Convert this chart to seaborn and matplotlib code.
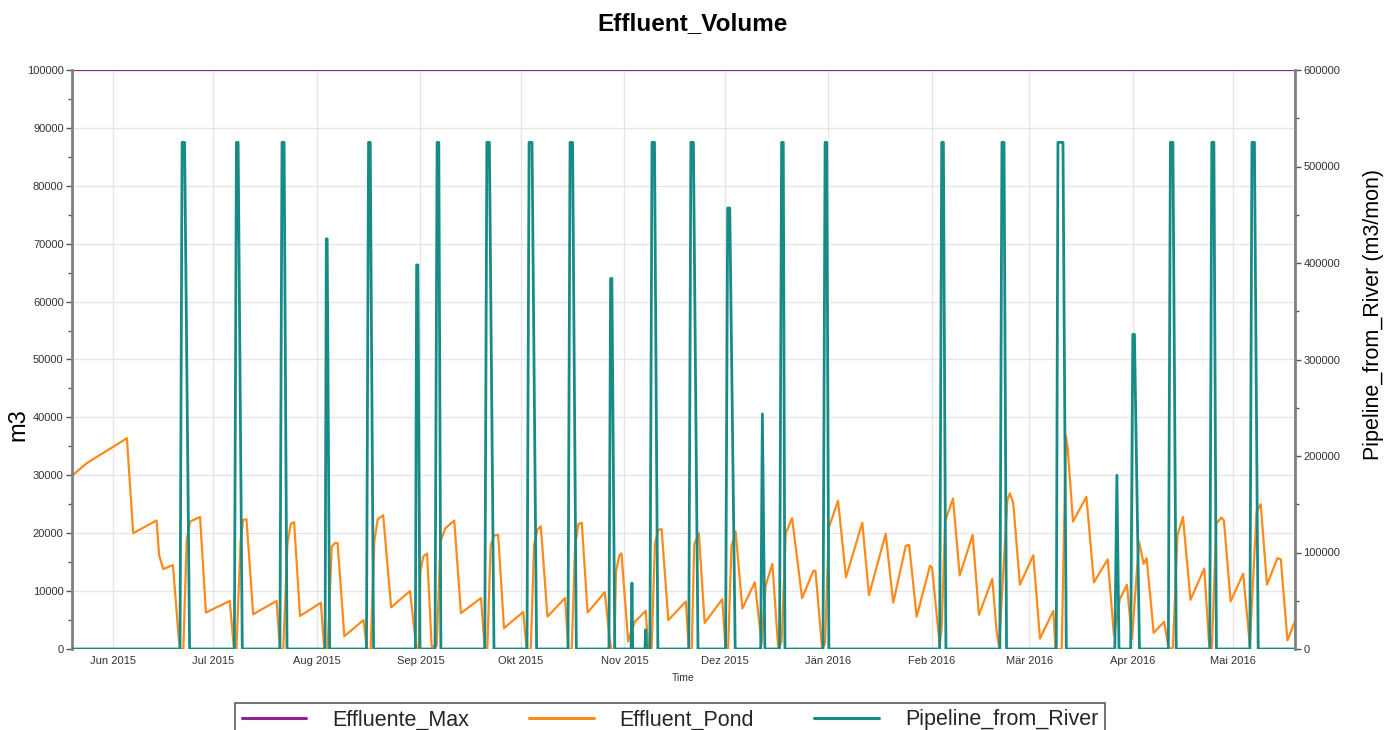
import matplotlib
matplotlib.use("Agg")
import matplotlib.pyplot as plt
import matplotlib.dates as mdates
from matplotlib.ticker import MultipleLocator, FuncFormatter
import pandas as pd
import seaborn as sns

# ---------------- data ----------------
max_dates = ["2015-05-19 20:00", "2016-05-20 12:00"]
max_values = [100000, 100000]

pond_dates = [
    "2015-05-20 00:00", "2015-05-24 06:00", "2015-06-05 06:00", "2015-06-07 03:00", "2015-06-14 03:00",
    "2015-06-14 21:00", "2015-06-16 03:00", "2015-06-19 00:00", "2015-06-20 15:00", "2015-06-21 03:00",
    "2015-06-22 03:00", "2015-06-23 03:00", "2015-06-24 03:00", "2015-06-27 03:00", "2015-06-28 21:00",
    "2015-07-06 00:00", "2015-07-07 06:00", "2015-07-08 00:00", "2015-07-09 06:00", "2015-07-10 00:00",
    "2015-07-11 00:00", "2015-07-13 00:00", "2015-07-20 00:00", "2015-07-21 00:00", "2015-07-22 00:00",
    "2015-07-23 06:00", "2015-07-24 06:00", "2015-07-25 06:00", "2015-07-27 00:00", "2015-08-02 06:00",
    "2015-08-03 06:00", "2015-08-04 06:00", "2015-08-05 12:00", "2015-08-06 12:00", "2015-08-07 06:00",
    "2015-08-09 06:00", "2015-08-15 00:00", "2015-08-16 00:00", "2015-08-17 03:00", "2015-08-18 06:00",
    "2015-08-19 06:00", "2015-08-20 21:00", "2015-08-23 06:00", "2015-08-28 21:00", "2015-08-30 21:00",
    "2015-08-31 12:00", "2015-09-01 00:00", "2015-09-01 21:00", "2015-09-03 00:00", "2015-09-04 09:00",
    "2015-09-05 21:00", "2015-09-07 00:00", "2015-09-08 09:00", "2015-09-11 03:00", "2015-09-13 03:00",
    "2015-09-19 03:00", "2015-09-20 06:00", "2015-09-21 00:00", "2015-09-22 00:00", "2015-09-23 00:00",
    "2015-09-24 06:00", "2015-09-26 00:00", "2015-10-01 18:00", "2015-10-02 18:00", "2015-10-04 00:00",
    "2015-10-05 00:00", "2015-10-06 00:00", "2015-10-07 00:00", "2015-10-09 00:00", "2015-10-14 06:00",
    "2015-10-15 06:00", "2015-10-16 06:00", "2015-10-17 06:00", "2015-10-18 06:00", "2015-10-19 06:00",
    "2015-10-21 00:00", "2015-10-26 03:00", "2015-10-27 15:00", "2015-10-28 03:00", "2015-10-29 00:00",
    "2015-10-29 12:00", "2015-10-30 12:00", "2015-10-31 03:00", "2015-11-02 03:00", "2015-11-02 21:00",
    "2015-11-04 03:00", "2015-11-07 09:00", "2015-11-08 03:00", "2015-11-09 03:00", "2015-11-10 03:00",
    "2015-11-11 03:00", "2015-11-12 03:00", "2015-11-14 03:00", "2015-11-19 09:00", "2015-11-20 06:00",
    "2015-11-21 03:00", "2015-11-21 21:00", "2015-11-23 06:00", "2015-11-25 00:00", "2015-11-30 06:00",
    "2015-12-01 06:00", "2015-12-02 00:00", "2015-12-03 00:00", "2015-12-04 06:00", "2015-12-06 06:00",
    "2015-12-10 00:00", "2015-12-12 00:00", "2015-12-13 06:00", "2015-12-15 06:00", "2015-12-17 00:00",
    "2015-12-18 00:00", "2015-12-19 06:00", "2015-12-21 03:00", "2015-12-24 03:00", "2015-12-27 12:00",
    "2015-12-28 03:00", "2015-12-30 03:00", "2015-12-31 00:00", "2016-01-01 03:00", "2016-01-03 21:00",
    "2016-01-06 06:00", "2016-01-11 03:00", "2016-01-13 03:00", "2016-01-18 03:00", "2016-01-20 09:00",
    "2016-01-24 03:00", "2016-01-25 03:00", "2016-01-27 09:00", "2016-01-31 09:00", "2016-02-01 00:00",
    "2016-02-03 06:00", "2016-02-03 21:00", "2016-02-04 21:00", "2016-02-07 06:00", "2016-02-09 06:00",
    "2016-02-13 03:00", "2016-02-15 00:00", "2016-02-19 00:00", "2016-02-20 06:00", "2016-02-21 00:00",
    "2016-02-22 18:00", "2016-02-23 12:00", "2016-02-24 06:00", "2016-02-25 06:00", "2016-02-27 06:00",
    "2016-03-02 06:00", "2016-03-04 06:00", "2016-03-08 06:00", "2016-03-08 21:00", "2016-03-10 18:00",
    "2016-03-12 00:00", "2016-03-12 12:00", "2016-03-14 03:00", "2016-03-18 03:00", "2016-03-20 09:00",
    "2016-03-24 12:00", "2016-03-26 09:00", "2016-03-28 03:00", "2016-03-30 06:00", "2016-03-31 18:00",
    "2016-04-02 21:00", "2016-04-04 06:00", "2016-04-05 03:00", "2016-04-07 06:00", "2016-04-10 09:00",
    "2016-04-11 18:00", "2016-04-13 00:00", "2016-04-14 09:00", "2016-04-16 00:00", "2016-04-18 06:00",
    "2016-04-22 09:00", "2016-04-23 18:00", "2016-04-24 15:00", "2016-04-26 00:00", "2016-04-27 12:00",
    "2016-04-28 06:00", "2016-04-30 06:00", "2016-05-04 00:00", "2016-05-06 00:00", "2016-05-08 00:00",
    "2016-05-09 06:00", "2016-05-11 03:00", "2016-05-14 06:00", "2016-05-15 06:00", "2016-05-17 06:00",
    "2016-05-20 06:00",
]
pond_values = [
    30000, 32100, 36400, 20000, 22200,
    16200, 13800, 14500, 2800, 0,
    0, 18800, 22000, 22800, 6300,
    8300, 0, 0, 18800, 22300,
    22400, 6000, 8300, 0, 0,
    18200, 21600, 21900, 5700, 8000,
    0, 0, 17700, 18300, 18300,
    2200, 5000, 0, 0, 18800,
    22400, 23100, 7200, 10000, 0,
    0, 13400, 16000, 16500, 400,
    500, 18500, 20800, 22200, 6200,
    8800, 0, 0, 17800, 19600,
    19700, 3600, 6400, 0, 0,
    18000, 20600, 21200, 5600, 8800,
    0, 0, 17800, 21600, 21800,
    6300, 9800, 1500, 0, 0,
    13400, 16200, 16500, 1300, 2700,
    4700, 6600, 0, 0, 18200,
    20600, 20700, 5000, 8200, 0,
    0, 18000, 20000, 4500, 8600,
    0, 0, 17700, 20300, 7000,
    11500, 1000, 11000, 14700, 0,
    1300, 20000, 22600, 8800, 13500,
    13500, 0, 1000, 21000, 25600,
    12400, 21800, 9300, 19900, 8000,
    17800, 18000, 5600, 14400, 14000,
    700, 3800, 22000, 26000, 12700,
    19700, 5900, 12100, 3300, 300,
    18200, 25700, 26900, 25200, 11100,
    16200, 1800, 6600, 0, 0,
    36800, 35000, 22000, 26300, 11500,
    15500, 2400, 8600, 11100, 1800,
    18500, 14700, 15700, 2800, 4700,
    0, 200, 19700, 22800, 8500,
    13900, 1300, 0, 21700, 22700,
    22200, 8200, 13000, 700, 23700,
    25000, 11100, 15700, 15500, 1500,
    5900,
]

pipe_dates = [
    "2015-05-19 20:00",
    "2015-06-21 03:00", "2015-06-21 18:00", "2015-06-22 12:00", "2015-06-24 00:00",
    "2015-07-07 09:00", "2015-07-08 00:00", "2015-07-08 12:00", "2015-07-09 18:00",
    "2015-07-21 00:00", "2015-07-21 15:00", "2015-07-22 06:00", "2015-07-23 03:00",
    "2015-08-03 12:00", "2015-08-03 21:00", "2015-08-04 03:00", "2015-08-04 21:00",
    "2015-08-15 21:00", "2015-08-16 12:00", "2015-08-17 00:00", "2015-08-18 00:00",
    "2015-08-30 12:00", "2015-08-30 21:00", "2015-08-31 06:00", "2015-08-31 21:00",
    "2015-09-05 09:00", "2015-09-06 00:00", "2015-09-06 12:00", "2015-09-07 03:00",
    "2015-09-20 06:00", "2015-09-20 21:00", "2015-09-21 15:00", "2015-09-23 00:00",
    "2015-10-02 21:00", "2015-10-03 12:00", "2015-10-04 09:00", "2015-10-05 18:00",
    "2015-10-15 03:00", "2015-10-15 18:00", "2015-10-16 12:00", "2015-10-17 15:00",
    "2015-10-27 09:00", "2015-10-27 21:00", "2015-10-28 06:00", "2015-10-29 03:00",
    "2015-11-03 00:00", "2015-11-03 06:00", "2015-11-03 12:00",
    "2015-11-07 03:00", "2015-11-07 09:00", "2015-11-07 15:00",
    "2015-11-08 15:00", "2015-11-09 06:00", "2015-11-10 00:00", "2015-11-11 00:00",
    "2015-11-20 06:00", "2015-11-20 21:00", "2015-11-21 15:00", "2015-11-23 00:00",
    "2015-12-01 06:00", "2015-12-01 21:00", "2015-12-02 12:00", "2015-12-04 03:00",
    "2015-12-11 18:00", "2015-12-12 06:00", "2015-12-13 00:00",
    "2015-12-17 09:00", "2015-12-18 00:00", "2015-12-18 12:00", "2015-12-19 00:00",
    "2015-12-30 09:00", "2015-12-31 00:00", "2015-12-31 12:00", "2016-01-01 03:00",
    "2016-02-03 06:00", "2016-02-03 21:00", "2016-02-04 09:00", "2016-02-05 03:00",
    "2016-02-21 06:00", "2016-02-21 21:00", "2016-02-22 12:00", "2016-02-23 06:00",
    "2016-03-09 03:00", "2016-03-09 15:00", "2016-03-11 03:00", "2016-03-12 03:00",
    "2016-03-26 15:00", "2016-03-27 06:00", "2016-03-27 21:00",
    "2016-03-31 09:00", "2016-04-01 00:00", "2016-04-01 12:00", "2016-04-03 00:00",
    "2016-04-11 15:00", "2016-04-12 06:00", "2016-04-13 00:00", "2016-04-14 00:00",
    "2016-04-24 00:00", "2016-04-24 15:00", "2016-04-25 06:00", "2016-04-26 00:00",
    "2016-05-06 00:00", "2016-05-06 15:00", "2016-05-07 09:00", "2016-05-08 12:00",
    "2016-05-20 12:00",
]
pipe_values = [
    0,
    0, 525000, 525000, 0,
    0, 525000, 525000, 0,
    0, 525000, 525000, 0,
    0, 425000, 425000, 0,
    0, 525000, 525000, 0,
    0, 398000, 398000, 0,
    0, 525000, 525000, 0,
    0, 525000, 525000, 0,
    0, 525000, 525000, 0,
    0, 525000, 525000, 0,
    0, 384000, 384000, 0,
    0, 68400, 0,
    0, 20000, 0,
    0, 525000, 525000, 0,
    0, 525000, 525000, 0,
    0, 457000, 457000, 0,
    0, 243600, 0,
    0, 525000, 525000, 0,
    0, 525000, 525000, 0,
    0, 525000, 525000, 0,
    0, 525000, 525000, 0,
    0, 525000, 525000, 0,
    0, 180000, 0,
    0, 326000, 326000, 0,
    0, 525000, 525000, 0,
    0, 525000, 525000, 0,
    0, 525000, 525000, 0,
    0,
]

month_names = ["Jän", "Feb", "Mär", "Apr", "Mai", "Jun",
               "Jul", "Aug", "Sep", "Okt", "Nov", "Dez"]

series_names = ["Effluente_Max", "Effluent_Pond", "Pipeline_from_River"]

# ---------------- style ----------------
sns.set_style("white")
plt.rcParams["font.family"] = ["Liberation Sans", "DejaVu Sans"]

C_MAX = "#8e248e"
C_POND = "#ff8a1c"
C_PIPE = "#178c86"
TICK_C = "#333333"
SPINE_C = "#808080"

W, H = 1385, 730
fig = plt.figure(figsize=(W / 100, H / 100), dpi=100)
L, R, T, B = 72, 1295, 70, 649
ax = fig.add_axes([L / W, 1 - B / H, (R - L) / W, (B - T) / H])
ax2 = ax.twinx()

df_max = pd.DataFrame({"Time": pd.to_datetime(max_dates), "v": max_values})
df_pond = pd.DataFrame({"Time": pd.to_datetime(pond_dates), "v": pond_values})
df_pipe = pd.DataFrame({"Time": pd.to_datetime(pipe_dates), "v": pipe_values})

sns.lineplot(data=df_max, x="Time", y="v", ax=ax, color=C_MAX, lw=1.6,
             estimator=None, sort=False, label=series_names[0], legend=False)
sns.lineplot(data=df_pond, x="Time", y="v", ax=ax, color=C_POND, lw=1.6,
             estimator=None, sort=False, label=series_names[1], legend=False)
sns.lineplot(data=df_pipe, x="Time", y="v", ax=ax2, color=C_PIPE, lw=2.0,
             estimator=None, sort=False, label=series_names[2], legend=False)

ax.set_xlim(pd.Timestamp("2015-05-19 20:00"), pd.Timestamp("2016-05-19 12:00"))
ax.set_ylim(0, 100000)
ax2.set_ylim(0, 600000)

# x axis
ax.xaxis.set_major_locator(mdates.MonthLocator())
ax.xaxis.set_major_formatter(FuncFormatter(
    lambda x, pos: f"{month_names[mdates.num2date(x).month - 1]} {mdates.num2date(x).year}"))
ax.set_xlabel("Time", fontsize=7.5, color=TICK_C, labelpad=5)
ax.set_ylabel("")
ax2.set_ylabel("")

# y axes
ax.yaxis.set_major_locator(MultipleLocator(10000))
ax.yaxis.set_minor_locator(MultipleLocator(5000))
ax.yaxis.set_major_formatter(FuncFormatter(lambda v, p: f"{int(v)}"))
ax2.yaxis.set_major_locator(MultipleLocator(100000))
ax2.yaxis.set_minor_locator(MultipleLocator(50000))
ax2.yaxis.set_major_formatter(FuncFormatter(lambda v, p: f"{int(v)}"))

for a in (ax, ax2):
    a.tick_params(axis="both", which="major", labelsize=8, labelcolor=TICK_C,
                  color="#555555", length=4, width=1, direction="out", pad=2)
    a.tick_params(axis="y", which="minor", color="#555555", length=3, width=1, direction="out")
    for s in ("top", "bottom", "left", "right"):
        a.spines[s].set_visible(False)
ax.spines["left"].set_visible(True)
ax.spines["left"].set_color(SPINE_C)
ax.spines["left"].set_linewidth(2)
ax2.spines["right"].set_visible(True)
ax2.spines["right"].set_color(SPINE_C)
ax2.spines["right"].set_linewidth(2)
ax.tick_params(axis="x", length=3, color="#444444")

ax.grid(True, which="major", color="#e6e6e6", lw=1)
ax.set_axisbelow(True)
ax2.grid(False)

# texts
fig.text(0.5, 1 - 24 / H, "Effluent_Volume", ha="center", va="center",
         fontsize=17.5, fontweight="bold", color="black")
fig.text(18 / W, 1 - 425 / H, "m3", rotation=90, ha="center", va="center",
         fontsize=17, color="black")
fig.text(1373 / W, 1 - 314 / H, "Pipeline_from_River (m3/mon)", rotation=90,
         ha="center", va="center", fontsize=15.5, color="black")

# legend
h1, l1 = ax.get_legend_handles_labels()
h2, l2 = ax2.get_legend_handles_labels()
leg = fig.legend(h1 + h2, l1 + l2, loc="upper center",
                 bbox_to_anchor=(670 / W, 1 - 703 / H), ncol=3, frameon=True,
                 fancybox=False, edgecolor="#333333", fontsize=15.5,
                 handlelength=3.0, handletextpad=1.2, columnspacing=2.8,
                 borderpad=0.3, borderaxespad=0)
leg.get_frame().set_linewidth(1.2)
for line in leg.get_lines():
    line.set_linewidth(2.2)

fig.savefig("out.png", dpi=100)
